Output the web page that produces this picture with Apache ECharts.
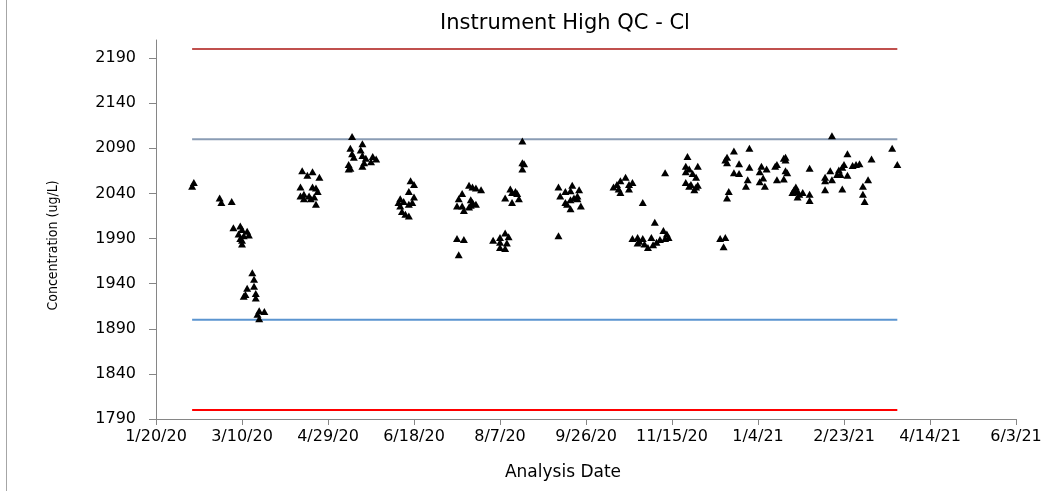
<!DOCTYPE html>
<html>
<head>
<meta charset="utf-8">
<script src="https://cdn.jsdelivr.net/npm/echarts@6/dist/echarts.min.js"></script>
<style>
  html, body { margin: 0; padding: 0; background: #ffffff; }
  #chart { width: 1060px; height: 491px; }
</style>
</head>
<body>
<div id="chart"></div>
<script>
// ---- Data ----
// Analysis dates as days after 1/20/20 (the x-axis origin)
const axisStartDate = '1/20/20';
const xTickLabels = ['1/20/20', '3/10/20', '4/29/20', '6/18/20', '8/7/20', '9/26/20',
                     '11/15/20', '1/4/21', '2/23/21', '4/14/21', '6/3/21'];
const yTickValues = [1790, 1840, 1890, 1940, 1990, 2040, 2090, 2140, 2190];

const analysisDay = [
  22, 21, 37, 38, 44, 45, 49, 50, 53, 48, 51, 54, 49, 50, 50, 56, 57, 53, 57, 51,
  52, 58, 58, 60, 63, 59, 60,
  85, 88, 91, 95, 84, 91, 93, 94, 86, 84, 89, 92, 86, 93, 90,
  114, 120, 113, 119, 114, 120, 115, 122, 126, 128, 125, 121, 112, 113, 112, 120,
  148, 150, 147, 150, 142, 141, 144, 147, 149, 142, 143, 145, 147,
  175, 179, 176, 182, 184, 186, 189, 178, 176, 183, 184, 175, 178, 182, 183, 179, 186,
  213, 213, 214, 213, 206, 209, 207, 210, 203, 207, 211, 203, 205, 200, 196, 200, 204, 200, 203,
  234, 242, 238, 241, 246, 235, 245, 243, 241, 238, 239, 247, 241, 245, 234,
  273, 270, 268, 266, 269, 270, 275, 277, 275, 296, 283,
  290, 295, 297, 298, 277, 280, 281, 283, 284, 286, 289, 291, 293, 296, 288, 280,
  309, 308, 310, 315, 308, 312, 314, 308, 311, 310, 314, 313, 315,
  332, 331, 336, 332, 339, 345, 336, 339, 344, 343, 333, 332, 331, 328, 330,
  345, 352, 351, 355, 353, 351, 354, 361, 360, 361, 365, 365, 366, 366, 366, 367,
  372, 370, 374, 376, 373, 380, 380, 371, 373, 380,
  389, 389, 389, 393, 392, 393, 397, 396, 398, 399, 400, 402, 399, 402, 405, 407, 409,
  416, 411, 411, 412, 414, 428, 431
];
const concentration = [
  2052, 2048, 2035, 2030, 2031, 2002, 2004, 2000, 1998, 1995, 1993, 1994, 1990, 1988, 1984, 1952, 1945, 1935, 1937, 1926,
  1928, 1929, 1924, 1910, 1909, 1906, 1901,
  2065, 2060, 2064, 2058, 2047, 2047, 2046, 2042, 2039, 2037, 2037, 2036, 2034, 2028, 2034,
  2103, 2095, 2090, 2088, 2084, 2082, 2080, 2079, 2081, 2078, 2075, 2074, 2072, 2068, 2067, 2070,
  2054, 2050, 2042, 2036, 2034, 2030, 2031, 2028, 2030, 2026, 2020, 2017, 2015,
  1990, 1989, 1972, 2049, 2047, 2046, 2044, 2040, 2034, 2033, 2030, 2026, 2026, 2025, 2027, 2021, 2028,
  2098, 2074, 2073, 2067, 2045, 2042, 2041, 2040, 2035, 2030, 2034, 1996, 1992, 1991, 1988, 1986, 1985, 1980, 1979,
  2047, 2049, 2042, 2043, 2044, 2037, 2037, 2035, 2033, 2030, 2028, 2026, 2023, 2034, 1993,
  2058, 2054, 2050, 2047, 2045, 2041, 2045, 2052, 2050, 2063, 2030,
  2008, 1999, 1995, 1991, 1990, 1991, 1987, 1990, 1984, 1980, 1983, 1986, 1989, 1990, 1991, 1985,
  2081, 2070, 2067, 2070, 2064, 2062, 2058, 2052, 2050, 2048, 2047, 2044, 2049,
  2080, 2077, 2087, 2074, 2073, 2090, 2063, 2062, 2055, 2048, 2042, 2035, 1991, 1990, 1981,
  2069, 2070, 2064, 2067, 2057, 2053, 2048, 2072, 2070, 2055, 2056, 2079, 2080, 2077, 2065, 2063,
  2047, 2041, 2039, 2041, 2036, 2039, 2032, 2044, 2042, 2068,
  2058, 2054, 2044, 2104, 2065, 2055, 2066, 2061, 2061, 2069, 2072, 2060, 2045, 2084, 2071, 2072, 2073,
  2078, 2048, 2039, 2031, 2055, 2090, 2072
];

// Control / warning limits (ug/L), drawn from the first to the last analysis date
const limitNames = ['Upper control limit', 'Upper warning limit', 'Lower warning limit', 'Lower control limit'];
const limitValues = [2200, 2100, 1900, 1800];
const limitStartDay = 21;
const limitEndDay = 431;

// ---- Chart ----
const limitColors = ['#c0504d', '#8a9cb4', '#5b95d0', '#ff0000'];

const chart = echarts.init(document.getElementById('chart'), null, { renderer: 'canvas' });

const limitSeries = limitValues.map((v, i) => ({
  name: limitNames[i],
  type: 'line',
  data: [[limitStartDay, v], [limitEndDay, v]],
  symbol: 'none',
  silent: true,
  z: 1,
  lineStyle: { color: limitColors[i], width: 2 }
}));

const option = {
  backgroundColor: '#ffffff',
  animation: false,
  title: {
    text: 'Instrument High QC - Cl',
    left: 560,
    textAlign: 'center',
    top: 8,
    textStyle: { fontFamily: 'DejaVu Sans', fontSize: 21, fontWeight: 'normal', color: '#000000' }
  },
  grid: { left: 156, right: 44, top: 40, bottom: 72, containLabel: false },
  xAxis: {
    type: 'value',
    min: 0,
    max: 500,
    interval: 50,
    name: 'Analysis Date',
    nameLocation: 'middle',
    nameGap: 45,
    nameTextStyle: { fontFamily: 'DejaVu Sans', fontSize: 17, color: '#000000', padding: [0, 46, 0, 0] },
    splitLine: { show: false },
    axisLine: { show: true, onZero: false, lineStyle: { color: '#868686', width: 1 } },
    axisTick: { show: true, inside: false, length: 6, lineStyle: { color: '#868686' } },
    axisLabel: {
      fontFamily: 'DejaVu Sans', fontSize: 16, color: '#000000', margin: 10,
      showMinLabel: true, showMaxLabel: true,
      formatter: v => xTickLabels[Math.round(v / 50)] || ''
    }
  },
  yAxis: {
    type: 'value',
    min: 1790,
    max: 2210,
    interval: 50,
    name: 'Concentration (ug/L)',
    nameLocation: 'middle',
    nameGap: 96,
    nameRotate: 90,
    nameTextStyle: { fontFamily: 'Liberation Sans Narrow, DejaVu Sans Condensed, sans-serif', fontSize: 14, color: '#000000', padding: [0, 32, 0, 0] },
    splitLine: { show: false },
    axisLine: { show: true, onZero: false, lineStyle: { color: '#868686', width: 1 } },
    axisTick: { show: true, inside: false, length: 7, customValues: yTickValues, lineStyle: { color: '#868686' } },
    axisLabel: {
      fontFamily: 'DejaVu Sans', fontSize: 16, color: '#000000', margin: 20,
      customValues: yTickValues,
      formatter: v => String(v)
    }
  },
  graphic: [{
    type: 'line',
    shape: { x1: 6.5, y1: 0, x2: 6.5, y2: 491 },
    style: { stroke: '#a6a6a6', lineWidth: 1 },
    silent: true
  }],
  series: [
    ...limitSeries,
    {
      name: 'Instrument High QC - Cl',
      type: 'scatter',
      data: analysisDay.map((d, i) => [d, concentration[i]]),
      symbol: 'triangle',
      symbolSize: [8, 7],
      z: 3,
      itemStyle: { color: '#000000', opacity: 1 }
    }
  ]
};

chart.setOption(option);
</script>
</body>
</html>
